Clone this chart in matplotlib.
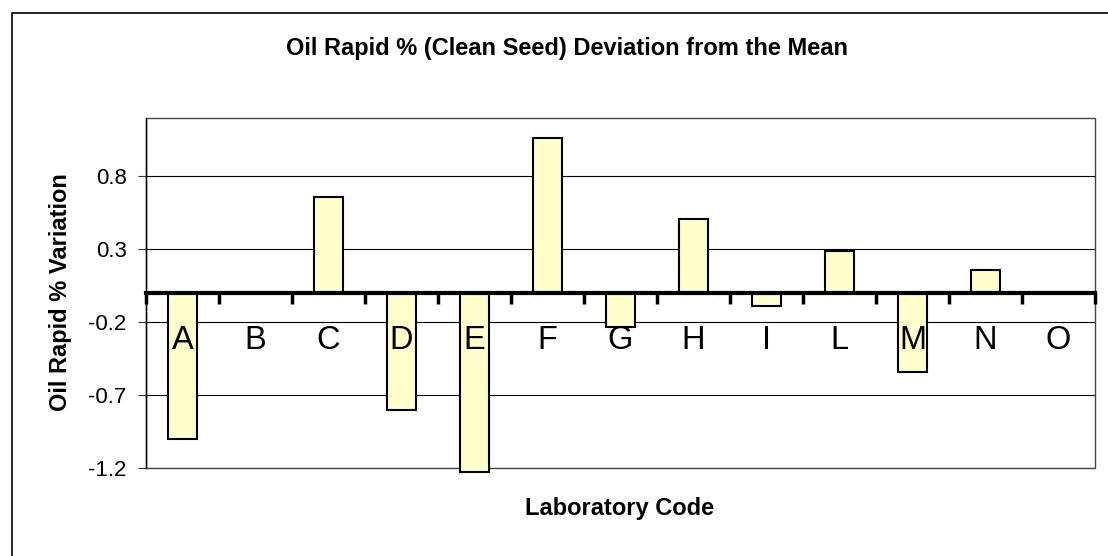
import numpy as np
import matplotlib
matplotlib.use('Agg')
import matplotlib.pyplot as plt
from matplotlib.patches import Rectangle

# Дані
labs = ['A', 'B', 'C', 'D', 'E', 'F', 'G', 'H', 'I', 'L', 'M', 'N', 'O']
deviation = [-1.00, 0.0, 0.66, -0.80, -1.23, 1.06, -0.23, 0.51, -0.09, 0.29, -0.54, 0.16, 0.0]
y_ticks = [-1.2, -0.7, -0.2, 0.3, 0.8]
y_tick_labels = ['-1.2', '-0.7', '-0.2', '0.3', '0.8']

plt.rcParams['font.family'] = ['Liberation Sans', 'DejaVu Sans']

fig = plt.figure(figsize=(11.08, 5.56), dpi=100)
ax = fig.add_axes([146 / 1108, 1 - 468 / 556, 949 / 1108, 350 / 556])

x = np.arange(len(labs))
bars = ax.bar(x, deviation, width=0.4, color='#FFFFCC', edgecolor='black',
              linewidth=1.5, zorder=2)
# стовпчик E виходить трохи за межі області
bars[4].set_clip_on(False)

ax.set_xlim(-0.5, len(labs) - 0.5)
ax.set_ylim(-1.2, 1.2)

# сітка
for yv in y_ticks:
    ax.axhline(yv, color='black', linewidth=0.8, zorder=1)

ax.set_yticks(y_ticks)
ax.set_yticklabels(y_tick_labels)
ax.tick_params(axis='y', direction='out', length=6, width=0.8, color='#333333',
               pad=8, labelsize=16)

# вісь X проходить через нуль, поділки між категоріями
ax.spines['bottom'].set_position(('data', 0))
ax.spines['bottom'].set_linewidth(3)
ax.spines['bottom'].set_zorder(3)
ax.set_xticks(np.arange(-0.5, len(labs), 1))
ax.set_xticklabels([])
ax.tick_params(axis='x', direction='out', length=8, width=2.5, color='black')

for s in ['top', 'right']:
    ax.spines[s].set_visible(False)
ax.spines['left'].set_linewidth(1)

# рамка області побудови
ax.add_patch(Rectangle((0, 0), 1, 1, transform=ax.transAxes, fill=False,
                       edgecolor='#444444', linewidth=1, zorder=0.5, clip_on=False))

# підписи категорій
for xi, lab in zip(x, labs):
    ax.text(xi, -0.325, lab, ha='center', va='center', fontsize=23.5, zorder=4)

fig.text(60 / 1108, 1 - 292 / 556, 'Oil Rapid % Variation', rotation=90,
         ha='center', va='center', fontsize=17, fontweight='bold')
fig.text(620 / 1108, 1 - 509 / 556, 'Laboratory Code', ha='center', va='center',
         fontsize=17, fontweight='bold')
fig.text(567 / 1108, 1 - 49 / 556, 'Oil Rapid % (Clean Seed) Deviation from the Mean',
         ha='center', va='center', fontsize=17, fontweight='bold')

# рамка діаграми
fig.add_artist(Rectangle((12 / 1108, -0.1), 1.2, 1 - 13 / 556 + 0.1,
                         transform=fig.transFigure, fill=False,
                         edgecolor='black', linewidth=1.2))

fig.savefig('out.png', dpi=100)
